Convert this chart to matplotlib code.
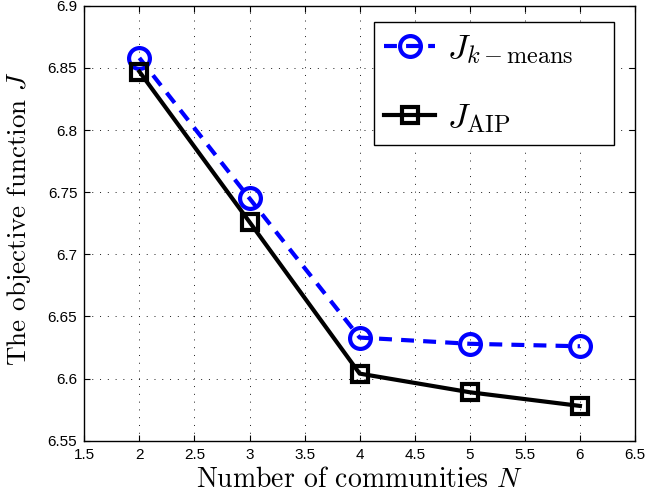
import matplotlib
matplotlib.use('Agg')
import matplotlib.pyplot as plt

plt.rcParams['font.family'] = ['Liberation Sans', 'DejaVu Sans']
plt.rcParams['mathtext.fontset'] = 'cm'

# data
N = [2, 3, 4, 5, 6]
J_kmeans = [6.858, 6.745, 6.633, 6.628, 6.626]
J_aip = [6.847, 6.726, 6.604, 6.589, 6.578]

xticks = [1.5, 2, 2.5, 3, 3.5, 4, 4.5, 5, 5.5, 6, 6.5]
yticks = [6.55, 6.6, 6.65, 6.7, 6.75, 6.8, 6.85, 6.9]

fig = plt.figure(figsize=(6.46, 4.98), dpi=100)
ax = fig.add_axes([0.1305, 0.115, 0.8525, 0.8735])

ax.plot(N, J_kmeans, color=(0, 0, 1), lw=3, dashes=(3.1, 2.2),
        marker='o', ms=15, mew=3, mfc='none', mec=(0, 0, 1),
        label=r'$J_{k-\mathrm{means}}$')
ax.plot(N, J_aip, color='k', lw=3, ls='-',
        marker='s', ms=12, mew=3, mfc='none', mec='k',
        label=r'$J_{\mathrm{AIP}}$')

ax.set_xlim(1.5, 6.5)
ax.set_ylim(6.55, 6.9)
ax.set_xticks(xticks)
ax.set_yticks(yticks)
ax.set_xticklabels([('%g' % t) for t in xticks])
ax.set_yticklabels([('%g' % t) for t in yticks])
ax.tick_params(direction='in', top=True, right=True, length=4,
               width=0.8, labelsize=11, colors='k')
ax.tick_params(axis='x', pad=5)
ax.tick_params(axis='y', pad=5)

ax.grid(True, color='0.1', lw=0.7, dashes=(1, 7))
for s in ax.spines.values():
    s.set_linewidth(1.0)

ax.set_xlabel(r'Number of communities $N$', fontsize=20, family='cmr10')
ax.set_ylabel(r'The objective function $J$', fontsize=19.5, family='cmr10')
ax.xaxis.set_label_coords(0.5, -0.06)
ax.yaxis.set_label_coords(-0.093, 0.51)

leg = ax.legend(loc='upper left', bbox_to_anchor=(0.526, 0.5, 0.436, 0.4625),
                mode='expand', borderaxespad=0, fontsize=25,
                handlelength=1.45, handletextpad=0.35, borderpad=0.3,
                labelspacing=1.0, fancybox=False, framealpha=1,
                edgecolor='k')
leg.get_frame().set_linewidth(1.0)

fig.savefig('out.png', dpi=100)
